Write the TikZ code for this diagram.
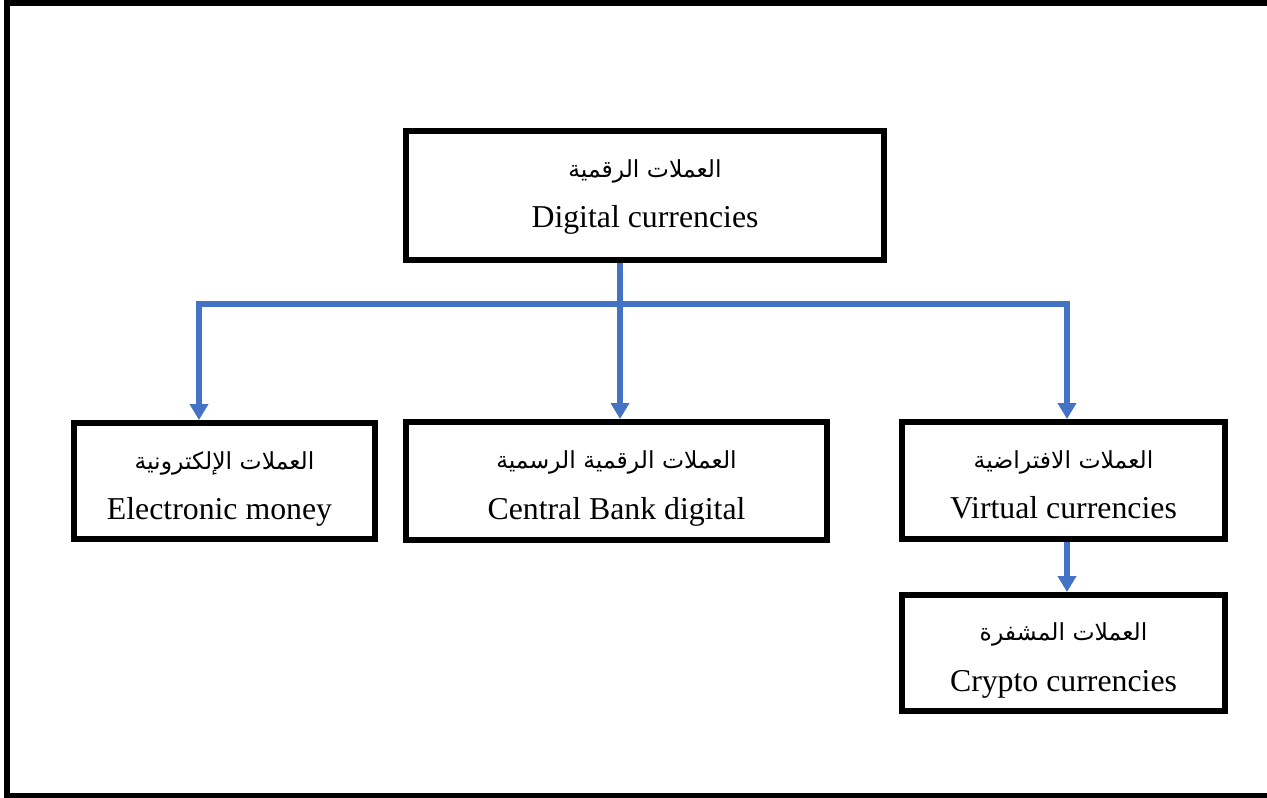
\documentclass[tikz,border=0pt]{standalone}
\usepackage{fontspec}
\setmainfont{Liberation Serif}
\newfontfamily\arabicfont[Script=Arabic]{DejaVu Sans}
\TeXXeTstate=1
\usetikzlibrary{arrows.meta}
\definecolor{linkblue}{HTML}{4472C4}
\tikzset{
  box/.style={draw, line width=6pt, inner sep=0pt},
  artext/.style={anchor=base, font=\arabicfont\fontsize{23.5}{28}\selectfont},
  entext/.style={anchor=base, font=\fontsize{31.8}{38}\selectfont},
  link/.style={draw=linkblue, line width=5.5pt},
  arrow/.style={link, -{Triangle[width=18pt,length=16pt]}}
}

\begin{document}
\begin{tikzpicture}[x=1pt,y=-1pt]
\useasboundingbox (0,0) rectangle (1267,798);
\draw [line width=5.5pt] (7,2.75) rectangle (1280,795.25);
\node [box, minimum width=478, minimum height=129] (digital) at (645,195.5) {};
\node [box, minimum width=301, minimum height=116] (money) at (224.5,481) {};
\node [box, minimum width=421, minimum height=118] (cbdc) at (616.5,481) {};
\node [box, minimum width=323, minimum height=117] (virtual) at (1063.5,480.5) {};
\node [box, minimum width=323, minimum height=116] (crypto) at (1063.5,653) {};
\node [artext] (digitalar) at ([yshift=-49pt]digital.north) {\beginR العملات الرقمية\endR};
\node [entext] (digitalen) at ([yshift=-99pt]digital.north) {Digital currencies};
\node [artext] (moneyar) at ([yshift=-49pt]money.north) {\beginR العملات الإلكترونية\endR};
\node [entext] (moneyen) at ([xshift=-5pt,yshift=-99pt]money.north) {Electronic money};
\node [artext] (cbdcar) at ([yshift=-49pt]cbdc.north) {\beginR العملات الرقمية الرسمية\endR};
\node [entext] (cbdcen) at ([yshift=-100pt]cbdc.north) {Central Bank digital};
\node [artext] (virtualar) at ([yshift=-49pt]virtual.north) {\beginR العملات الافتراضية\endR};
\node [entext] (virtualen) at ([yshift=-99pt]virtual.north) {Virtual currencies};
\node [artext] (cryptoar) at ([yshift=-48pt]crypto.north) {\beginR العملات المشفرة\endR};
\node [entext] (cryptoen) at ([yshift=-99pt]crypto.north) {Crypto currencies};
\coordinate (split) at (620,304);
\draw [link] (digital.south -| split) -- (split);
\draw [arrow] (split) -| ([xshift=-25.5pt]money.north);
\draw [arrow] (split) -- (cbdc.north -| split);
\draw [arrow] (split) -| ([xshift=3.5pt]virtual.north);
\draw [arrow] ([xshift=3.5pt]virtual.south) -- ([xshift=3.5pt]crypto.north);
\end{tikzpicture}
\end{document}
